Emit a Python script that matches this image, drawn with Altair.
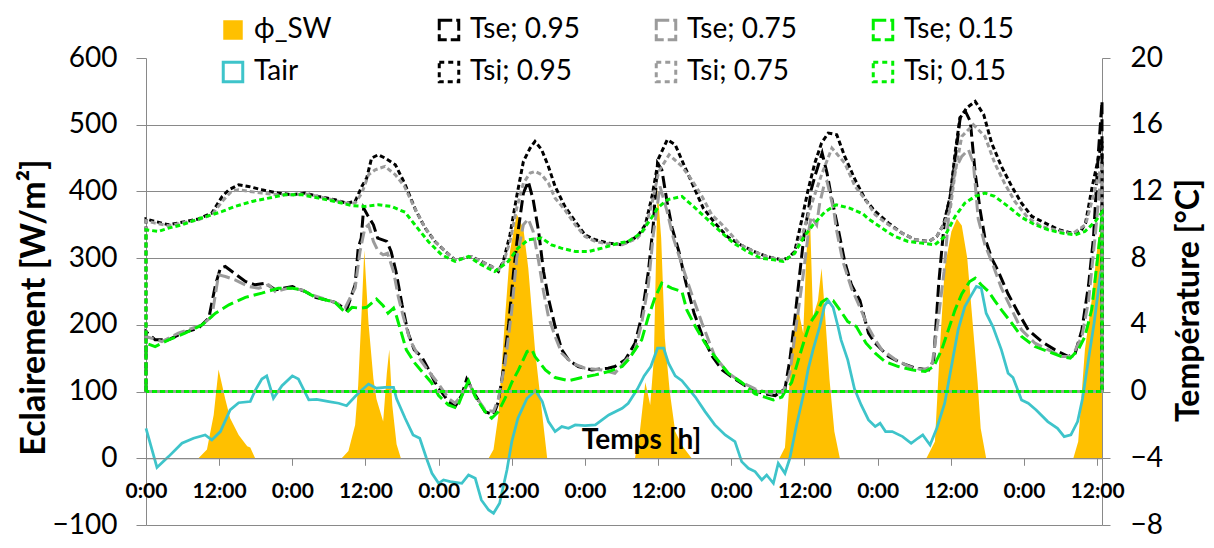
import altair as alt
import pandas as pd

FONT = "Lato"
GRID = "#898989"
T_END = 156.8

ORANGE = "#FFC000"
CYAN = "#3EC4CA"
BLACK = "#000000"
GRAY = "#9B9B9B"
GREEN = "#00F000"

PLOT_W = 956
PLOT_H = 467
PAD_TOP = 50

# ---- phi_SW (W/m2), left axis ----
PHI_T = [0, 8.6, 10, 11.1, 11.9, 13, 13.8, 15.2, 16.6, 17.1, 17.9,
         32.1, 33.2, 34.3, 34.8, 35.4, 35.8, 36.5, 37.3, 37.8, 38.9, 39.5, 39.9, 40.4, 41.1, 41.8,
         56.2, 57, 57.8, 58.9, 59.7, 60.8, 61.9, 62.7, 63.8, 65, 65.8,
         80.2, 81, 81.9, 82.7, 83.3, 83.9, 84.5, 85.1, 85.9, 86.8, 88, 89.5,
         103.9, 104.8, 105.3, 106.1, 107, 107.8, 108.3, 108.9, 109.4, 110.2, 110.8, 111.3, 112.1, 112.9, 113.8,
         128, 129.4, 130.2, 131, 132.1, 133, 133.8, 134.7, 135.5, 136.4, 136.9, 137.8,
         152.1, 152.9, 154, 155.1, 156.2, 156.8]
PHI_V = [0, 0, 13, 65, 133, 89, 60, 35, 18, 16, 0,
         0, 11, 50, 109, 226, 312, 202, 119, 89, 55, 128, 163, 79, 21, 0,
         0, 13, 65, 212, 310, 366, 344, 285, 163, 65, 0,
         0, 40, 114, 80, 150, 405, 330, 180, 100, 40, 18, 0,
         0, 16, 79, 187, 222, 187, 305, 364, 212, 236, 285, 226, 119, 40, 0,
         0, 25, 163, 285, 340, 359, 349, 300, 212, 114, 45, 0,
         0, 25, 163, 236, 330, 345]

# ---- Tair (degC), right axis ----
TAIR_T = [0, 1.8, 3.7, 5.9, 7.8, 9.7, 10.8, 12.2, 13.8, 15.2,
          17.1, 17.9, 19, 19.8, 20.9, 22.3, 24, 25, 26.7, 28,
          30, 31.6, 32.9, 34.3, 35.4, 36.5, 37.8, 39.2, 40.6, 41.1,
          42.5, 43.8, 44.9, 46, 46.9, 48, 48.8, 49.9, 51.8, 52.9,
          54, 55, 56.2, 57, 58, 59.2, 60, 61, 62.5, 63.9,
          65, 66, 67.1, 68.2, 69.3, 70.4, 72, 73.7, 75.9, 78.1,
          79.1, 80.6, 81.7, 82.8, 83.9, 84.9, 85.7, 86.8, 87.9, 89,
          90.1, 91.7, 93.3, 95, 96.6, 97.7, 98.8, 99.9, 101, 101.8,
          102.9, 103.7, 104.8, 105.6, 106.7, 107.8, 108.6, 109.4, 110.5, 111.3,
          111.9, 112.7, 113.5, 114, 115.1, 116.2, 117.3, 118.5, 119.6, 120.4,
          121.3, 122.4, 124.1, 125.5, 126.6, 127.4, 128.6, 129.7, 131, 132.1,
          133.2, 134.3, 135.4, 136.2, 137, 137.8, 138.9, 140.3, 141.4, 142.2,
          143.6, 144.7, 146, 147.9, 149.5, 150.6, 151.7, 152.8, 153.6, 154.4,
          155.5, 156.6]
TAIR_V = [-2.2, -4.55, -3.9, -3.1, -2.8, -2.6, -2.9, -2.4, -1.1, -0.67,
          -0.6, 0.06, 0.75, 0.94, -0.4, 0.35, 0.94, 0.75, -0.5, -0.47,
          -0.6, -0.7, -0.85, -0.3, 0.1, 0.45, 0.2, 0.25, 0.25, -0.43,
          -1.6, -2.6, -2.8, -4.0, -4.9, -5.5, -5.3, -5.4, -5.5, -5.0,
          -5.2, -6.5, -7.1, -7.3, -6.7, -4.7, -3.0, -1.6, -0.4, 0.06,
          -0.6, -1.8, -2.4, -2.1, -2.2, -2.0, -2.04, -2.0, -1.4, -1.0,
          -0.7, 0.15, 0.94, 1.5, 2.6, 2.6, 1.7, 0.94, 0.65, 0.16,
          -0.33, -1.2, -2.0, -2.6, -3.0, -4.2, -4.6, -4.8, -5.3, -5.0,
          -5.5, -4.3, -4.9, -4.0, -2.0, -0.24, 1.33, 2.5, 3.9, 5.15,
          5.45, 5.05, 3.9, 3.1, 1.9, 0.16, -0.8, -1.7, -2.1, -1.9,
          -2.4, -2.4, -2.7, -3.1, -2.8, -2.6, -3.2, -2.2, -0.7, 1.5,
          3.7, 5.1, 5.8, 6.3, 6.2, 4.7, 3.9, 2.5, 1.1, 0.84,
          -0.5, -0.7, -1.1, -1.8, -2.2, -2.7, -2.6, -1.8, -0.43, 1.5,
          4.1, 7.2]

# ---- Tse; 0.95 ----
TSE95_T = [0, 1.5, 3.7, 5.9, 8.6, 10.3, 11.4, 12.2, 13, 14.1,
           16.3, 17.9, 19.6, 21.2, 24, 26.1, 27.8, 30, 31, 32.9,
           34.3, 34.8, 35.3, 35.7, 36.3, 37.3, 38, 39.5, 40.2, 41,
           42, 43, 44, 45.2, 46.4, 47.4, 48.5, 49.6, 50.7, 51.8,
           52.6, 54, 55.6, 57, 57.8, 58.6, 59.5, 60.3, 61.1, 61.9,
           62.7, 63.5, 64.4, 65.2, 66, 67.1, 68.2, 69.3, 70.9, 73.1,
           75.8, 76.9, 78.6, 80.2, 81.3, 82.4, 83.2, 83.9, 84.6, 85.5,
           86.3, 87.4, 88.5, 89.9, 91.3, 92.9, 94.5, 96.6, 98.3, 99.9,
           101.5, 103.2, 104.8, 105.6, 106.4, 107.2, 108, 108.6, 109.1, 109.7,
           110.9, 111.7, 112.4, 113.5, 114.6, 115.7, 117.1, 118.5, 119.6, 121.8,
           124, 126.2, 128.4, 129.2, 130, 130.9, 132, 132.7, 133.6, 134.4,
           135.2, 136, 136.8, 137.6, 138.7, 139.8, 141.4, 143.1, 144.7, 146.9,
           149.1, 151.3, 152.4, 153.5, 154.6, 155.4, 156.2, 156.8]
TSE95_V = [3.6, 3.1, 3.1, 3.5, 3.8, 4.4, 6.4, 7.4, 7.5, 7.2,
           6.6, 6.4, 6.5, 6.1, 6.3, 6.0, 5.65, 5.45, 5.35, 4.9,
           6.4, 8.6, 9.2, 11.0, 10.6, 10.0, 9.2, 9.0, 8.4, 7.2,
           5.2, 3.5, 2.5, 2.1, 1.3, 0.55, -0.04, -0.6, -0.9, -0.2,
           0.75, -0.2, -1.2, -1.4, -0.6, 1.3, 4.1, 7.2, 9.8, 11.9,
           12.6, 11.5, 9.6, 7.2, 5.6, 3.9, 2.5, 1.9, 1.5, 1.3,
           1.4, 1.5, 1.9, 2.9, 4.5, 7.2, 10.0, 13.7, 13.3, 11.3,
           9.8, 8.4, 6.6, 4.7, 3.3, 2.1, 1.3, 0.75, 0.35, 0.06,
           -0.14, -0.24, 0.16, 1.9, 4.3, 7.0, 9.6, 10.75, 12.1, 12.9,
           14.3, 13.1, 11.7, 9.8, 7.8, 6.4, 5.45, 3.5, 2.9, 2.1,
           1.7, 1.4, 1.3, 1.9, 6.4, 10.0, 11.9, 13.9, 16.6, 16.8,
           16.2, 13.1, 10.9, 9.2, 8.0, 7.2, 5.85, 4.7, 3.7, 3.0,
           2.5, 2.1, 2.3, 3.7, 6.4, 9.2, 14.3, 17.4]

# ---- Tse; 0.75 ----
TSE75_T = [0, 2.6, 5.3, 9.2, 10.8, 11.9, 13, 14.6, 16.8, 18.5,
           20.1, 21.2, 23.4, 25.6, 27.2, 28.9, 31, 32.7, 33.8, 34.3,
           35.1, 35.9, 36.5, 37.3, 38.1, 38.9, 39.6, 40.6, 41.4, 42.2,
           43.3, 45, 46.4, 48, 49.6, 50.7, 52, 52.9, 54, 55.6,
           57, 57.8, 58.9, 60, 60.8, 61.9, 62.7, 63.5, 64.4, 65.2,
           66, 67.1, 68.2, 69.9, 72, 74.8, 76.9, 80.2, 81.3, 82.4,
           83.2, 84.3, 85.4, 86.5, 87.9, 89.5, 91.2, 93.3, 95.5, 97.7,
           99.9, 102.6, 104.5, 105.6, 106.7, 107.8, 108.6, 109.1, 110, 110.5,
           111.3, 111.7, 112.8, 113.2, 114.3, 115.7, 117.1, 118.4, 119.6, 120.7,
           123, 125.2, 127.4, 128.9, 130, 130.9, 131.7, 132.7, 133.8, 134.9,
           135.7, 136.5, 137.6, 138.7, 140.3, 142, 143.6, 145.8, 148, 150.2,
           151.9, 153.5, 154.6, 155.7, 156.8]
TSE75_V = [3.3, 3.0, 3.5, 4.0, 4.5, 7.0, 6.9, 6.7, 6.3, 6.2,
           6.4, 6.0, 6.2, 6.1, 5.8, 5.6, 5.35, 5.05, 5.85, 6.2,
           8.4, 9.8, 10.0, 9.0, 8.4, 8.2, 8.3, 7.2, 5.65, 4.5,
           3.1, 1.9, 1.2, 0.45, -0.4, -0.7, -0.1, 0.55, -0.24, -1.1,
           -1.2, -0.43, 1.7, 4.9, 8.0, 10.0, 10.35, 9.6, 7.8, 6.0,
           4.5, 3.3, 2.3, 1.7, 1.4, 1.3, 1.1, 2.5, 4.1, 6.4,
           9.4, 12.3, 10.9, 9.2, 7.6, 5.85, 4.1, 2.1, 1.1, 0.55,
           0.16, -0.14, -0.04, 1.1, 4.1, 7.0, 9.4, 10.5, 10.0, 11.3,
           12.5, 12.6, 10.9, 9.8, 7.8, 6.2, 5.05, 3.9, 3.1, 2.5,
           1.9, 1.5, 1.3, 1.5, 4.5, 7.2, 10.75, 13.3, 14.1, 14.5,
           13.7, 10.35, 8.8, 7.8, 6.2, 4.9, 3.7, 2.9, 2.5, 2.1,
           2.1, 3.3, 5.45, 9.4, 13.7]

# ---- Tse; 0.15 ----
TSE15_T = [0, 1.5, 3.7, 6.4, 9.2, 11.4, 13.6, 16.3, 19, 21.7,
           24, 25.6, 27.8, 30, 31, 32.8, 33.8, 35.1, 36.2, 37.8,
           38.9, 39.7, 40.6, 41.1, 41.9, 42.7, 44.1, 45.5, 46.8, 48,
           49.6, 51, 52.1, 52.9, 54, 55.6, 56.7, 57.8, 58.9, 60,
           61.1, 62.5, 63.3, 63.8, 65.5, 67.1, 69.3, 71.5, 73.7, 75.9,
           78.1, 79.1, 80.2, 81.3, 82.4, 83.5, 84.6, 86.2, 87.9, 88.7,
           90.1, 91.7, 93.3, 95.5, 97.7, 99.9, 101.5, 102.9, 104.3, 104.8,
           105.9, 107, 108, 108.9, 110, 110.8, 111.6, 112.7, 113.8, 115.1,
           116.5, 118.1, 119.6, 121.2, 123.4, 125.6, 127.8, 129.2, 130.5, 131.6,
           132.7, 133.8, 135.1, 136, 137, 138.2, 139.2, 140.3, 142, 143.6,
           145.8, 148, 150.2, 151.6, 152.9, 154, 155.1, 156.2, 156.8]
TSE15_V = [2.9, 2.7, 3.1, 3.5, 4.0, 4.7, 5.2, 5.65, 5.9, 6.2,
           6.2, 6.1, 5.65, 5.45, 5.35, 4.7, 5.05, 5.0, 5.05, 5.55,
           5.15, 4.7, 5.0, 4.5, 3.5, 2.5, 1.7, 1.1, 0.55, -0.24,
           -0.8, -1.0, 0.0, 0.65, -0.3, -1.2, -1.6, -1.2, -0.4, 0.55,
           1.3, 2.4, 2.5, 2.1, 1.3, 0.84, 0.65, 0.84, 1.0, 1.2,
           1.5, 1.9, 2.5, 3.1, 4.5, 5.65, 6.5, 6.2, 6.0, 4.9,
           3.9, 2.9, 2.1, 1.1, 0.55, -0.14, -0.33, -0.5, -0.33, 0.0,
           0.55, 1.9, 3.1, 4.1, 4.7, 5.35, 5.55, 5.45, 4.9, 4.2,
           3.9, 2.9, 2.3, 1.8, 1.5, 1.3, 1.2, 1.5, 2.5, 3.7,
           4.9, 5.85, 6.6, 6.8, 6.4, 6.0, 5.45, 4.9, 4.1, 3.3,
           2.7, 2.4, 2.1, 2.0, 2.5, 3.3, 4.9, 8.4, 10.5]

# ---- Tsi; 0.95 ----
TSI95_T = [0, 1.5, 3.7, 5.9, 8.6, 10.8, 12.5, 13.6, 15.2, 16.8,
           19, 21.7, 24, 26.1, 28.3, 31, 32.9, 34.3, 35.4, 36.2,
           37, 38.1, 39.2, 40.9, 42.4, 44.2, 45.8, 47.4, 49.1, 50.7,
           52.3, 53.4, 55, 56.7, 57.8, 58.6, 59.7, 60.8, 61.9, 63,
           63.8, 64.9, 66, 67.1, 68.7, 70.4, 72, 73.7, 75.9, 78.1,
           79.1, 80.6, 81.9, 83, 84.1, 85.5, 86.8, 88.1, 89.8, 91.4,
           93.1, 95.3, 97.5, 99.7, 101.8, 104.2, 105.3, 106.4, 107.5, 108.6,
           109.7, 110.8, 111.9, 113.3, 114.6, 116.3, 118, 119.6, 121.8, 124,
           126.2, 128.4, 129.7, 130.8, 131.9, 132.7, 133.5, 134.6, 136, 137.4,
           138.7, 140.3, 142, 143.6, 145.3, 147.5, 149.7, 151.9, 153.3, 154.1,
           155.2, 156.8]
TSI95_V = [10.35, 10.2, 10.0, 10.15, 10.35, 10.7, 11.7, 12.1, 12.4, 12.3,
           12.1, 11.9, 11.8, 11.9, 11.7, 11.5, 11.3, 11.4, 12.3, 12.8,
           14.0, 14.2, 14.0, 13.6, 12.5, 10.9, 9.8, 9.0, 8.4, 7.9,
           8.0, 8.1, 7.8, 7.5, 7.2, 7.8, 9.4, 11.7, 13.8, 14.6,
           15.0, 14.5, 13.5, 12.3, 11.1, 10.2, 9.4, 9.1, 8.9, 8.8,
           9.0, 9.3, 10.0, 11.7, 14.0, 15.1, 14.8, 13.7, 12.3, 11.0,
           10.2, 9.3, 8.8, 8.4, 8.1, 7.9, 8.0, 8.4, 10.2, 12.1,
           13.7, 14.9, 15.5, 15.4, 14.1, 12.7, 11.5, 10.8, 10.1, 9.5,
           9.1, 9.0, 9.3, 10.0, 11.7, 14.3, 16.4, 17.0, 17.4, 16.6,
           14.9, 13.5, 12.3, 11.3, 10.5, 10.1, 9.7, 9.5, 9.6, 10.1,
           12.3, 15.0]

# ---- Tsi; 0.75 ----
TSI75_T = [0, 1.5, 3.7, 5.9, 8.6, 10.8, 12.5, 14, 15.2, 17,
           19, 21.7, 24, 26.1, 28.3, 31, 32.9, 34.3, 35.4, 36.5,
           37.6, 39.2, 40.9, 42.4, 44.2, 45.8, 47.4, 49.1, 50.7, 52.3,
           53.4, 55, 56.7, 57.8, 58.6, 59.7, 60.8, 61.9, 63, 63.8,
           64.9, 66, 67.1, 68.7, 70.4, 72, 73.7, 75.9, 78.1, 80.6,
           81.9, 83, 84.1, 85.8, 87.9, 89.5, 91.2, 92.8, 94.5, 97.5,
           99.7, 101.8, 104.2, 105.3, 106.4, 107.8, 109.4, 110.8, 112.5, 114.6,
           116.3, 118, 119.6, 121.8, 124, 126.2, 128.4, 129.7, 130.8, 131.9,
           132.7, 133.8, 135.7, 137.6, 139.2, 140.8, 142.5, 144.7, 146.9, 150.2,
           151.9, 154.1, 155.5, 156.8]
TSI75_V = [10.25, 10.1, 9.95, 10.1, 10.3, 10.6, 11.4, 12.0, 12.1, 12.0,
           11.9, 11.8, 11.8, 11.85, 11.7, 11.45, 11.3, 11.3, 11.9, 13.0,
           13.3, 13.5, 13.0, 12.3, 10.9, 9.8, 9.0, 8.4, 7.9, 8.0,
           8.1, 7.8, 7.5, 7.3, 7.7, 9.0, 11.0, 12.5, 13.1, 13.2,
           13.0, 12.5, 11.6, 10.9, 10.0, 9.3, 9.0, 8.85, 8.8, 9.2,
           9.8, 11.3, 13.2, 14.2, 13.5, 12.7, 11.7, 10.6, 10.0, 8.8,
           8.4, 8.1, 7.9, 8.0, 8.3, 9.6, 11.5, 13.0, 14.6, 13.7,
           12.3, 11.5, 10.6, 10.0, 9.5, 9.1, 9.0, 9.3, 10.0, 10.9,
           13.1, 15.3, 16.0, 15.3, 13.7, 12.5, 11.4, 10.4, 9.9, 9.6,
           9.45, 10.0, 11.9, 13.7]

# ---- Tsi; 0.15 ----
TSI15_T = [0, 2, 3.7, 5.9, 8.6, 10.8, 12.5, 14.6, 17.4, 20.1,
           22.8, 25.6, 28.3, 31, 33.7, 35.9, 38.1, 40.3, 42.5, 44.1,
           46.3, 48.5, 50.7, 52.9, 55, 57.2, 58.3, 59.4, 61, 62.7,
           64.9, 66.5, 68.1, 70.4, 72.6, 74.8, 77.5, 79.1, 81.2, 82.8,
           83.9, 85.5, 87.9, 89.8, 92, 94.2, 96.4, 98.6, 100.8, 103,
           104.5, 106.4, 107.8, 109.4, 111.3, 113.2, 115.4, 117.6, 118.5, 120.7,
           122.8, 125, 127.2, 129.4, 131, 132.7, 134.3, 136, 137.6, 139.2,
           141.4, 143.6, 145.8, 148, 150.2, 152.4, 154, 155.7, 156.8]
TSI15_V = [9.7, 9.6, 9.8, 10.0, 10.35, 10.6, 10.8, 11.1, 11.4, 11.6,
           11.8, 11.8, 11.6, 11.4, 11.15, 11.1, 11.2, 11.1, 10.75, 10.0,
           9.0, 8.2, 7.8, 8.1, 7.6, 7.2, 7.5, 7.8, 8.6, 9.1,
           9.2, 8.8, 8.6, 8.4, 8.4, 8.6, 8.9, 9.0, 9.5, 10.35,
           11.0, 11.5, 11.7, 11.1, 10.35, 9.6, 8.9, 8.4, 8.0, 7.9,
           7.8, 8.3, 9.2, 10.0, 10.75, 11.2, 11.0, 10.65, 10.35, 9.8,
           9.3, 9.0, 8.9, 8.8, 9.3, 10.5, 11.3, 11.7, 11.9, 11.7,
           11.1, 10.45, 10.0, 9.7, 9.5, 9.4, 9.6, 10.2, 10.75]

E_TICKS = list(range(-100, 601, 100))
T_TICKS = list(range(-8, 21, 4))
X_TICKS = list(range(0, 157, 6))

LEG_X = [73, 289, 506, 723]
LEG_Y = [-42, 0]


def frame(name, ts, vs, closed=False):
    assert len(ts) == len(vs), name
    xs, ys = list(ts), list(vs)
    if closed:
        xs = [0.0] + xs + [xs[-1], 0.0]
        ys = [0.0] + ys + [0.0, 0.0]
    return pd.DataFrame({"t": xs, "v": ys, "seq": list(range(len(xs))), "series": name})


def leg(col, row, **kw):
    return alt.Legend(title=None, orient="none", legendX=LEG_X[col], legendY=LEG_Y[row],
                      symbolType="square", symbolSize=380, labelFont=FONT, labelFontSize=28,
                      labelColor="black", labelOffset=7, padding=0, labelLimit=300, **kw)


xscale = alt.Scale(domain=[0, T_END], nice=False, zero=False)
yE = alt.Scale(domain=[-100, 600], nice=False, zero=False)
yT = alt.Scale(domain=[-8, 20], nice=False, zero=False)

x_axis = alt.Axis(
    values=X_TICKS, offset=-PLOT_H * 100 / 700, grid=False, zindex=1,
    labelExpr="datum.value % 24 == 0 ? '0:00' : (datum.value % 12 == 0 ? '12:00' : '')",
    domainColor=GRID, tickColor=GRID, tickSize=7,
    labelFont=FONT, labelFontSize=21, labelFontWeight="bold", labelColor="black",
    labelBaseline="middle", labelPadding=26, labelOverlap=False, labelFlush=False,
    title="Temps [h]", titleFont=FONT, titleFontSize=28, titleFontWeight="bold",
    titleColor="black", titleX=495, titleY=-10, titleAlign="center", titleBaseline="alphabetic",
)

left_axis = alt.Axis(
    orient="left", values=E_TICKS, grid=True,
    gridColor={"condition": {"test": "datum.value === 600", "value": "transparent"}, "value": GRID},
    domainColor=GRID, tickColor=GRID, tickSize=10,
    labelFont=FONT, labelFontSize=28, labelColor="black", labelPadding=19, labelFlush=False,
    title="Eclairement [W/m²]", titleFont=FONT, titleFontSize=34, titleFontWeight="bold",
    titleColor="black", titleAngle=270, titleX=-112, titleY=307 - 8 - PAD_TOP,
    titleAlign="center", titleBaseline="middle",
)

right_axis = alt.Axis(
    orient="right", values=T_TICKS, grid=False,
    domainColor=GRID, tickColor=GRID, tickSize=8,
    labelFont=FONT, labelFontSize=28, labelColor="black", labelPadding=20, labelFlush=False,
    title="Température [°C]", titleFont=FONT, titleFontSize=32, titleFontWeight="bold",
    titleColor="black", titleAngle=270, titleX=86, titleY=300 - 8 - PAD_TOP,
    titleAlign="center", titleBaseline="middle",
)

area = alt.Chart(frame("\u03d5_SW", PHI_T, PHI_V)).mark_area(interpolate="linear", opacity=1).encode(
    x=alt.X("t:Q", scale=xscale, axis=x_axis),
    y=alt.Y("v:Q", scale=yE, axis=left_axis),
    y2=alt.datum(0),
    color=alt.Color("series:N", scale=alt.Scale(domain=["\u03d5_SW"], range=[ORANGE]),
                    legend=leg(0, 0)),
)


def line(name, ts, vs, color, dash, legdash, col, row, width=3.0, closed=True, axis=None):
    kw = {"strokeWidth": width}
    if dash:
        kw["strokeDash"] = dash
    lkw = {"symbolStrokeWidth": 3, "symbolStrokeColor": color, "symbolFillColor": "white"}
    if legdash:
        lkw["symbolDash"] = legdash
    return alt.Chart(frame(name, ts, vs, closed)).mark_line(**kw).encode(
        x=alt.X("t:Q", scale=xscale),
        y=alt.Y("v:Q", scale=yT, axis=axis),
        order=alt.Order("seq:Q"),
        color=alt.Color("series:N", scale=alt.Scale(domain=[name], range=[color]),
                        legend=leg(col, row, **lkw)),
    )


LONG = [12, 5]
SHORT = [5, 3]
LEG_LONG = [13, 4]
LEG_SHORT = [5, 4]

layers = [
    area,
    line("Tse; 0.95", TSE95_T, TSE95_V, BLACK, LONG, LEG_LONG, 1, 0),
    line("Tse; 0.75", TSE75_T, TSE75_V, GRAY, LONG, LEG_LONG, 2, 0),
    line("Tse; 0.15", TSE15_T, TSE15_V, GREEN, LONG, LEG_LONG, 3, 0),
    line("Tair", TAIR_T, TAIR_V, CYAN, None, None, 0, 1, width=2.75, closed=False, axis=right_axis),
    line("Tsi; 0.95", TSI95_T, TSI95_V, BLACK, SHORT, LEG_SHORT, 1, 1),
    line("Tsi; 0.75", TSI75_T, TSI75_V, GRAY, SHORT, LEG_SHORT, 2, 1),
    line("Tsi; 0.15", TSI15_T, TSI15_V, GREEN, SHORT, LEG_SHORT, 3, 1),
]

chart = (
    alt.layer(*layers)
    .resolve_scale(y="independent", color="independent")
    .properties(
        width=PLOT_W, height=PLOT_H,
        padding={"left": 138, "top": PAD_TOP, "right": 104, "bottom": 532 - PAD_TOP - PLOT_H},
        autosize=alt.AutoSizeParams(type="none"),
        background="white",
    )
    .configure_view(stroke=None)
)

chart.save("out.html", embed_options={"renderer": "svg", "actions": False})
